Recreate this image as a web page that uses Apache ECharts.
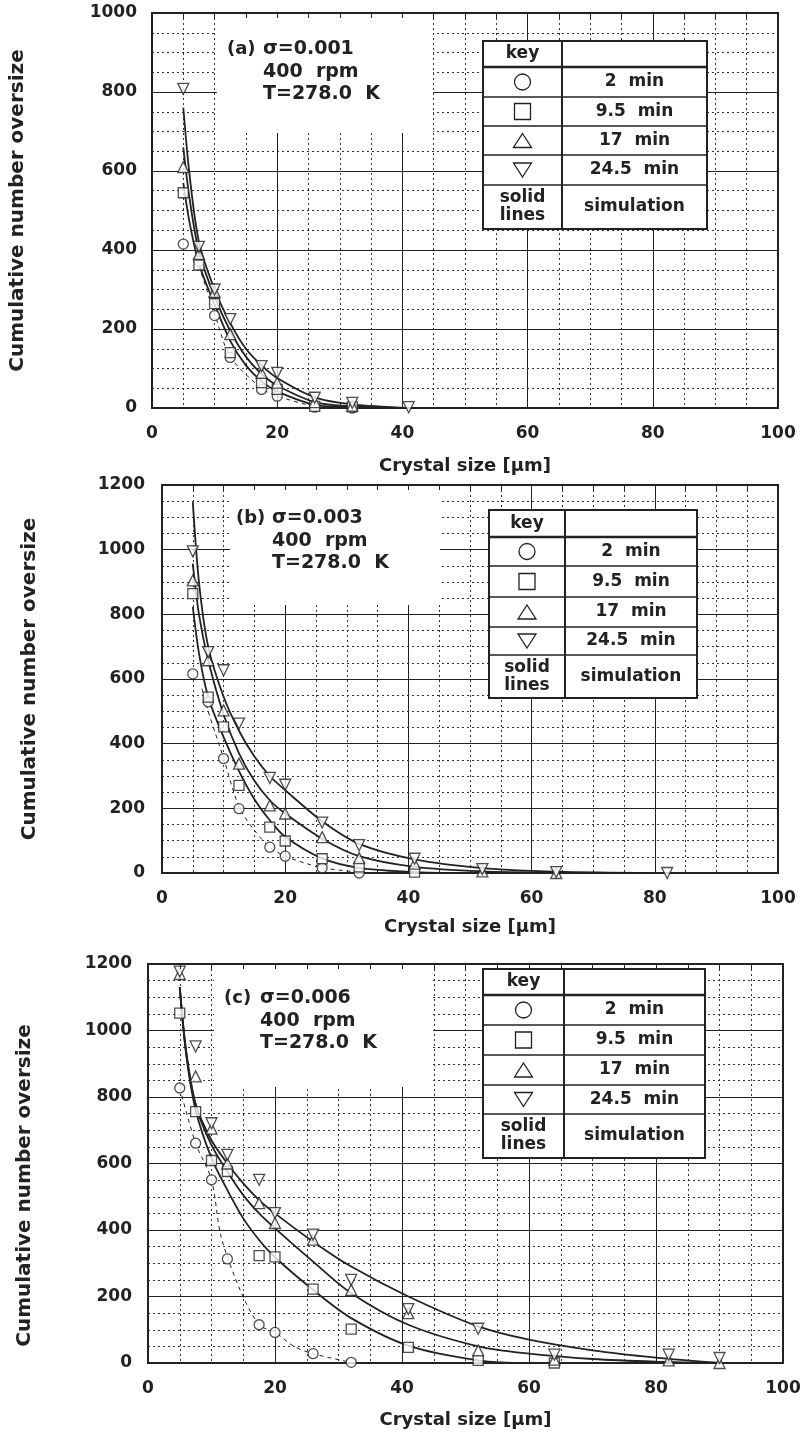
<!DOCTYPE html>
<html><head><meta charset="utf-8">
<script src="https://cdn.jsdelivr.net/npm/echarts@6/dist/echarts.min.js"></script>
<style>html,body{margin:0;padding:0;background:#fff}#c{width:802px;height:1439px}</style>
</head><body><div id="c"></div>
<script>
// Sieve sizes (crystal size, um) used by the measured points
const sizes = [5, 7.5, 10, 12.5, 17.5, 20, 26, 32, 41, 52, 64, 82, 90];
const xTicks = [0, 20, 40, 60, 80, 100];
const legendLabels = ['2  min', '9.5  min', '17  min', '24.5  min'];

// ---- Panel (a) sigma = 0.001 ----
const a_exp_2   = [415, 372, 234, 128, 47, 30, 2, 0];
const a_exp_95  = [545, 362, 264, 140, 64, 47, 4, 3];
const a_exp_17  = [610, 390, 294, 187, 89, 64, 15, 6];
const a_exp_245 = [808, 408, 300, 225, 106, 89, 26, 13, 2];
const a_simX    = [5, 6, 7.5, 10, 12.5, 15, 17.5, 20, 26, 32, 41];
const a_sim_95  = [570, 470, 365, 262, 170, 108, 68, 42, 8, 2, 0];
const a_sim_17  = [660, 530, 395, 282, 195, 130, 86, 57, 15, 4, 0];
const a_sim_245 = [760, 590, 420, 300, 215, 150, 108, 76, 27, 9, 0];
const a_dashX   = [7.5, 10, 12.5, 17.5, 20, 26];
const a_dash    = [360, 240, 130, 50, 30, 3];

// ---- Panel (b) sigma = 0.003 ----
const b_exp_2   = [616, 529, 354, 199, 80, 52, 16, 0];
const b_exp_95  = [864, 544, 452, 271, 142, 99, 44, 19, 3];
const b_exp_17  = [905, 658, 503, 338, 209, 184, 111, 46, 29, 5, 0];
const b_exp_245 = [995, 683, 627, 462, 294, 273, 156, 86, 44, 12, 3, 0];
const b_simX    = [5, 6, 7.5, 10, 12.5, 15, 17.5, 20, 26, 32, 41, 52, 64, 80];
const b_sim_95  = [823, 680, 544, 420, 315, 228, 163, 112, 45, 16, 3, 0, 0, 0];
const b_sim_17  = [957, 800, 658, 490, 370, 285, 225, 184, 106, 52, 19, 5, 1, 0];
const b_sim_245 = [1147, 900, 700, 545, 440, 360, 300, 256, 160, 90, 42, 15, 4, 0];
const b_dashX   = [6.5, 7.5, 10, 12.5, 15, 17.5, 20, 23.5, 26, 32];
const b_dash    = [570, 500, 355, 205, 132, 80, 52, 29, 16, 2];

// ---- Panel (c) sigma = 0.006 ----
const c_exp_2   = [827, 661, 551, 313, 115, 92, 28, 2];
const c_exp_95  = [1052, 756, 609, 576, 323, 319, 222, 102, 47, 8, 0];
const c_exp_17  = [1170, 862, 705, 600, 481, 421, 371, 220, 150, 38, 10, 8, 0];
const c_exp_245 = [1177, 952, 721, 626, 551, 451, 386, 250, 162, 103, 25, 25, 15];
const c_simX    = [5, 6, 7.5, 10, 12.5, 15, 17.5, 20, 26, 32, 41, 52, 60, 70, 80, 90];
const c_sim_95  = [1130, 930, 761, 616, 520, 435, 370, 318, 220, 135, 52, 8, 0, 0, 0, 0];
const c_sim_17  = [1130, 935, 775, 655, 575, 505, 450, 405, 305, 210, 115, 50, 28, 12, 4, 0];
const c_sim_245 = [1130, 940, 780, 670, 600, 540, 490, 450, 365, 290, 200, 110, 70, 38, 16, 0];
const c_dashX   = [5, 7.5, 10, 11.5, 14.5, 17.5, 20, 23, 26, 32];
const c_dash    = [827, 661, 551, 381, 220, 115, 92, 50, 28, 2];

const panels = [
  {tag:'(a)', sigma:'σ=0.001', ymax:1000,
   grid:{left:152, top:13, width:626, height:395}, yGap:124, yPad:[0,0,0,0], yMargin:15, xGap:49,
   exp:[a_exp_2, a_exp_95, a_exp_17, a_exp_245], simX:a_simX, sim:[a_sim_95, a_sim_17, a_sim_245],
   dashX:a_dashX, dash:a_dash,
   box:{x:217, y:14, w:216, h:119}, txt:{x1:227, x2:263, y:49},
   leg:{x:483, y:41, w1:79, w2:145, rows:[26,30,29,29,30,44]}},
  {tag:'(b)', sigma:'σ=0.003', ymax:1200,
   grid:{left:162, top:485, width:616, height:388}, yGap:122, yPad:[0,0,0,0], yMargin:17, xGap:45,
   exp:[b_exp_2, b_exp_95, b_exp_17, b_exp_245], simX:b_simX, sim:[b_sim_95, b_sim_17, b_sim_245],
   dashX:b_dashX, dash:b_dash,
   box:{x:230, y:486, w:210, h:119}, txt:{x1:236, x2:272, y:518},
   leg:{x:489, y:510, w1:76, w2:132, rows:[27,29,31,30,28,43]}},
  {tag:'(c)', sigma:'σ=0.006', ymax:1200,
   grid:{left:148, top:964, width:635, height:399}, yGap:113, yPad:[0,44,0,0], yMargin:16, xGap:48,
   exp:[c_exp_2, c_exp_95, c_exp_17, c_exp_245], simX:c_simX, sim:[c_sim_95, c_sim_17, c_sim_245],
   dashX:c_dashX, dash:c_dash,
   box:{x:214, y:965, w:219, h:122}, txt:{x1:224, x2:260, y:998},
   leg:{x:483, y:969, w1:81, w2:141, rows:[26,30,30,30,29,44]}}
];

const INK = '#222';
const FONT = '"DejaVu Sans", Verdana, sans-serif';
const symbols = [
  {symbol:'circle', rot:0, size:10},
  {symbol:'rect', rot:0, size:10},
  {symbol:'triangle', rot:0, size:11},
  {symbol:'triangle', rot:180, size:11}
];

const grids = [], xAxes = [], yAxes = [], series = [], graphics = [];

panels.forEach((p, i) => {
  grids.push(Object.assign({show:true, borderColor:INK, borderWidth:2, backgroundColor:'#fff',
    containLabel:false, outerBoundsMode:'none'}, p.grid));
  xAxes.push({gridIndex:i, type:'value', min:0, max:100, interval:20,
    name:'Crystal size [μm]', nameLocation:'middle', nameGap:p.xGap,
    nameTextStyle:{fontFamily:FONT, fontWeight:'bold', fontSize:18, color:INK},
    axisLine:{show:false}, axisTick:{show:false},
    minorTick:{show:false, splitNumber:4},
    axisLabel:{fontFamily:FONT, fontWeight:'bold', fontSize:17, color:INK, margin:17,
      formatter: v => xTicks.includes(v) ? String(v) : ''},
    splitLine:{show:true, lineStyle:{color:INK, width:1}},
    minorSplitLine:{show:true, lineStyle:{color:'#333', width:1, type:[2,3]}}});
  yAxes.push({gridIndex:i, type:'value', min:0, max:p.ymax, interval:200,
    name:'Cumulative number oversize', nameLocation:'middle', nameGap:p.yGap,
    nameTextStyle:{fontFamily:FONT, fontWeight:'bold', fontSize:20, color:INK, padding:p.yPad},
    axisLine:{show:false}, axisTick:{show:false},
    minorTick:{show:false, splitNumber:4},
    axisLabel:{fontFamily:FONT, fontWeight:'bold', fontSize:17, color:INK, margin:p.yMargin,
      formatter: v => String(v)},
    splitLine:{show:true, lineStyle:{color:INK, width:1}},
    minorSplitLine:{show:true, lineStyle:{color:'#333', width:1, type:[2,3]}}});
  // inward tick marks along the top frame edge
  xAxes.push({gridIndex:i, type:'value', position:'top', min:0, max:100, interval:5, z:5,
    axisLine:{show:false}, axisLabel:{show:false}, splitLine:{show:false},
    axisTick:{show:true, inside:true, length:5, lineStyle:{color:INK, width:1}}});

  const xi = 2 * i;
  // simulation curves
  p.sim.forEach(arr => series.push({type:'line', xAxisIndex:xi, yAxisIndex:i,
    data: arr.map((v, k) => [p.simX[k], v]), smooth:0.3,
    showSymbol:false, symbol:'none', z:3, lineStyle:{color:INK, width:1.8}}));
  // dashed guide through 2-min data
  series.push({type:'line', xAxisIndex:xi, yAxisIndex:i,
    data: p.dash.map((v, k) => [p.dashX[k], v]), smooth:0.3,
    showSymbol:false, symbol:'none', z:3, lineStyle:{color:INK, width:1, type:[4,4]}});
  // measured points
  p.exp.forEach((arr, s) => series.push({type:'scatter', xAxisIndex:xi, yAxisIndex:i,
    name: legendLabels[s], data: arr.map((v, k) => [sizes[k], v]),
    symbol:symbols[s].symbol, symbolRotate:symbols[s].rot, symbolSize:symbols[s].size, z:4,
    itemStyle:{color:'#fff', borderColor:INK, borderWidth:1.3}}));

  // white annotation box with conditions
  graphics.push({type:'rect', z:1, shape:{x:p.box.x, y:p.box.y, width:p.box.w, height:p.box.h},
    style:{fill:'#fff'}});
  graphics.push({type:'text', z:5, x:p.txt.x1, y:p.txt.y,
    style:{text:p.tag, font:'bold 18px ' + FONT, fill:INK, textVerticalAlign:'middle'}});
  graphics.push({type:'text', z:5, x:p.txt.x2, y:p.txt.y,
    style:{text:p.sigma, font:'bold 19px ' + FONT, fill:INK, textVerticalAlign:'middle'}});
  graphics.push({type:'text', z:5, x:p.txt.x2, y:p.txt.y + 23,
    style:{text:'400  rpm', font:'bold 19px ' + FONT, fill:INK, textVerticalAlign:'middle'}});
  graphics.push({type:'text', z:5, x:p.txt.x2, y:p.txt.y + 45,
    style:{text:'T=278.0  K', font:'bold 19px ' + FONT, fill:INK, textVerticalAlign:'middle'}});

  // key table
  const L = p.leg, W = L.w1 + L.w2;
  const H = L.rows.reduce((a, b) => a + b, 0);
  graphics.push({type:'rect', z:6, shape:{x:L.x, y:L.y, width:W, height:H},
    style:{fill:'#fff', stroke:INK, lineWidth:2}});
  graphics.push({type:'line', z:7, shape:{x1:L.x + L.w1, y1:L.y, x2:L.x + L.w1, y2:L.y + H},
    style:{stroke:INK, lineWidth:2}});
  let yy = L.y;
  const cells = [['key', ''], ['', legendLabels[0]], ['', legendLabels[1]], ['', legendLabels[2]],
                 ['', legendLabels[3]], ['solid\nlines', 'simulation']];
  L.rows.forEach((h, r) => {
    if (r > 0) graphics.push({type:'line', z:7, shape:{x1:L.x, y1:yy, x2:L.x + W, y2:yy},
      style:{stroke:INK, lineWidth: r === 1 ? 2.5 : 1.5}});
    const cy = yy + h / 2;
    if (cells[r][0]) graphics.push({type:'text', z:8, x:L.x + L.w1 / 2, y:cy,
      style:{text:cells[r][0], font:'bold 17px ' + FONT, fill:INK, textAlign:'center',
             textVerticalAlign:'middle', lineHeight:18}});
    if (cells[r][1]) graphics.push({type:'text', z:8, x:L.x + L.w1 + L.w2 / 2, y:cy,
      style:{text:cells[r][1], font:'bold 17px ' + FONT, fill:INK, textAlign:'center',
             textVerticalAlign:'middle'}});
    const sx = L.x + L.w1 / 2;
    const st = {fill:'#fff', stroke:INK, lineWidth:1.3};
    if (r === 1) graphics.push({type:'circle', z:8, shape:{cx:sx, cy:cy, r:8}, style:st});
    if (r === 2) graphics.push({type:'rect', z:8, shape:{x:sx - 8, y:cy - 8, width:16, height:16}, style:st});
    if (r === 3) graphics.push({type:'polygon', z:8, shape:{points:[[sx, cy - 7], [sx + 9, cy + 7], [sx - 9, cy + 7]]}, style:st});
    if (r === 4) graphics.push({type:'polygon', z:8, shape:{points:[[sx, cy + 7], [sx + 9, cy - 7], [sx - 9, cy - 7]]}, style:st});
    yy += h;
  });
});

const chart = echarts.init(document.getElementById('c'), null, {renderer:'canvas'});
chart.setOption({
  backgroundColor:'#fff', animation:false,
  grid:grids, xAxis:xAxes, yAxis:yAxes, series:series, graphic:graphics
});
</script></body></html>
